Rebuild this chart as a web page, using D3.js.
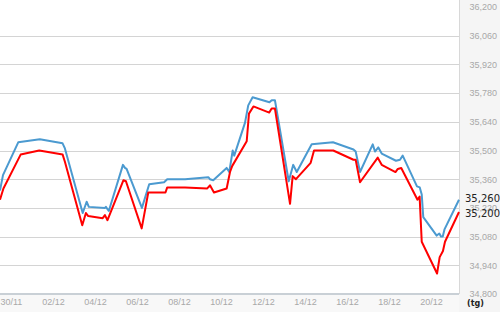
<!DOCTYPE html>
<html>
<head>
<meta charset="utf-8">
<script src="https://cdn.jsdelivr.net/npm/d3@7"></script>
<style>
  html, body { margin: 0; padding: 0; background: #fff; }
  svg { display: block; font-family: "DejaVu Sans", Verdana, sans-serif; }
</style>
</head>
<body>
<div id="chart"></div>
<script>
// sell price (blue), [time, value]
const sellPoints = [
  ["29/11 11:30", 35305], ["29/11 14:55", 35380], ["30/11 08:20", 35540], ["01/12 09:00", 35555],
  ["02/12 11:00", 35535], ["02/12 13:40", 35510], ["03/12 10:00", 35195], ["03/12 14:30", 35250],
  ["03/12 17:00", 35225], ["04/12 11:30", 35220], ["04/12 12:30", 35225], ["04/12 15:50", 35205],
  ["05/12 08:00", 35430], ["05/12 10:20", 35415], ["05/12 12:10", 35410], ["06/12 05:40", 35220],
  ["06/12 14:00", 35335], ["07/12 07:00", 35345], ["07/12 10:35", 35360], ["08/12 07:00", 35360],
  ["09/12 09:30", 35370], ["09/12 11:25", 35360], ["09/12 15:10", 35355], ["10/12 06:30", 35415],
  ["10/12 09:30", 35395], ["10/12 13:25", 35500], ["10/12 15:10", 35475], ["11/12 03:25", 35635],
  ["11/12 07:10", 35720], ["11/12 12:10", 35760], ["12/12 07:25", 35735], ["12/12 10:00", 35745],
  ["12/12 13:40", 35745], ["13/12 05:25", 35350], ["13/12 10:35", 35430], ["13/12 14:35", 35395],
  ["14/12 07:40", 35530], ["15/12 08:00", 35540], ["16/12 07:25", 35505], ["16/12 09:55", 35495],
  ["16/12 14:55", 35395], ["17/12 05:25", 35530], ["17/12 08:00", 35495], ["17/12 11:50", 35515],
  ["17/12 15:40", 35485], ["18/12 08:00", 35450], ["18/12 12:35", 35455], ["18/12 15:40", 35475],
  ["19/12 08:00", 35325], ["19/12 11:10", 35320], ["19/12 13:25", 35285], ["19/12 15:10", 35175],
  ["20/12 06:30", 35085], ["20/12 09:30", 35095], ["20/12 11:25", 35080], ["20/12 13:25", 35080],
  ["20/12 15:25", 35115], ["21/12 08:00", 35260]
];

// buy price (red), [time, value]
const buyPoints = [
  ["29/11 11:30", 35260], ["29/11 15:25", 35315], ["30/11 11:05", 35480], ["01/12 08:20", 35500],
  ["02/12 11:05", 35480], ["02/12 13:40", 35445], ["03/12 09:30", 35135], ["03/12 13:40", 35195],
  ["03/12 16:20", 35180], ["04/12 08:50", 35170], ["04/12 11:25", 35185], ["04/12 14:20", 35160],
  ["05/12 08:35", 35355], ["05/12 11:25", 35350], ["06/12 05:25", 35120], ["06/12 12:55", 35295],
  ["07/12 08:35", 35295], ["07/12 10:35", 35320], ["08/12 06:55", 35320], ["09/12 08:20", 35315],
  ["09/12 11:25", 35330], ["09/12 16:00", 35295], ["10/12 06:30", 35315], ["10/12 10:20", 35395],
  ["10/12 12:55", 35425], ["11/12 05:25", 35545], ["11/12 08:00", 35680], ["11/12 13:05", 35715],
  ["12/12 07:10", 35685], ["12/12 09:55", 35705], ["12/12 13:40", 35705], ["13/12 06:55", 35240],
  ["13/12 09:55", 35375], ["13/12 13:40", 35360], ["14/12 06:30", 35440], ["14/12 10:20", 35500],
  ["15/12 08:20", 35500], ["16/12 07:25", 35455], ["16/12 09:55", 35455], ["16/12 14:55", 35345],
  ["17/12 11:10", 35465], ["17/12 15:40", 35430], ["18/12 07:25", 35395], ["18/12 10:05", 35410],
  ["18/12 14:00", 35415], ["19/12 08:35", 35260], ["19/12 11:00", 35275], ["19/12 13:25", 35055],
  ["20/12 06:55", 34900], ["20/12 09:55", 34980], ["20/12 13:40", 35010], ["20/12 16:00", 35055],
  ["21/12 08:00", 35200]
];

const xTickLabels = ["30/11", "02/12", "04/12", "06/12", "08/12", "10/12",
                     "12/12", "14/12", "16/12", "18/12", "20/12"];
const yTickValues = [34800, 34940, 35080, 35220, 35360, 35500, 35640, 35780, 35920, 36060, 36200];
const timeRange = ["29/11 11:30", "21/12 08:00"];
const unitLabel = "(tg)";

const width = 500, height = 312;
const plot = {left: 0, right: 459, top: 7, bottom: 294};

const parseTime = d3.utcParse("%d/%m %H:%M");
const parseDay = d3.utcParse("%d/%m");

var x = d3.scaleUtc()
  .domain(timeRange.map(parseTime))
  .range([plot.left, plot.right]);

var y = d3.scaleLinear()
  .domain([34800, 36200])
  .range([plot.bottom, plot.top]);

const svg = d3.select("#chart").append("svg")
  .attr("width", width)
  .attr("height", height);

// gray side panel and bottom strip
svg.append("rect")
  .attr("x", plot.right).attr("y", 0)
  .attr("width", width - plot.right).attr("height", height)
  .attr("fill", "#f5f5f5");
svg.append("rect")
  .attr("x", 0).attr("y", plot.bottom)
  .attr("width", plot.right).attr("height", height - plot.bottom)
  .attr("fill", "#f8f8f8");

// grid lines
svg.append("g")
  .selectAll("line")
  .data(yTickValues.filter(v => v > 34800 && v < 36200))
  .enter().append("line")
  .attr("x1", plot.left).attr("x2", plot.right)
  .attr("y1", d => Math.round(y(d)) + 0.5)
  .attr("y2", d => Math.round(y(d)) + 0.5)
  .attr("stroke", "#d4d4d4")
  .attr("stroke-width", 1.2);

// right border
svg.append("line")
  .attr("x1", plot.right + 0.5).attr("x2", plot.right + 0.5)
  .attr("y1", 0).attr("y2", plot.bottom)
  .attr("stroke", "#d8d8d8");

// y axis on the right
var yAxis = d3.axisRight(y)
  .tickValues(yTickValues)
  .tickSize(0)
  .tickFormat(d3.format(","));

svg.append("g")
  .attr("class", "y-axis")
  .attr("transform", "translate(497,0)")
  .call(yAxis)
  .call(g => g.select(".domain").remove())
  .call(g => g.selectAll("text")
    .attr("x", 0)
    .attr("text-anchor", "end")
    .attr("fill", "#a8a8a8")
    .style("font-size", "9px"));

// x axis
var xAxis = d3.axisBottom(x)
  .tickValues(xTickLabels.map(parseDay))
  .tickSize(0)
  .tickFormat(d3.utcFormat("%d/%m"));

svg.append("g")
  .attr("class", "x-axis")
  .attr("transform", "translate(0," + plot.bottom + ")")
  .call(xAxis)
  .call(g => g.select(".domain").remove())
  .call(g => g.selectAll("text")
    .attr("y", 5)
    .attr("fill", "#a8a8a8")
    .style("font-size", "9px"));

svg.append("line")
  .attr("x1", 0).attr("x2", plot.right)
  .attr("y1", plot.bottom).attr("y2", plot.bottom)
  .attr("stroke", "#c9d0d6")
  .attr("stroke-width", 2);

// lines
var line = d3.line()
  .x(d => x(parseTime(d[0])))
  .y(d => y(d[1]));

svg.append("path")
  .datum(sellPoints)
  .attr("fill", "none")
  .attr("stroke", "#4b9ad0")
  .attr("stroke-width", 2)
  .attr("stroke-linejoin", "round")
  .attr("d", line);

svg.append("path")
  .datum(buyPoints)
  .attr("fill", "none")
  .attr("stroke", "#ff0000")
  .attr("stroke-width", 2)
  .attr("stroke-linejoin", "round")
  .attr("d", line);

// last value labels
const lastValues = [sellPoints[sellPoints.length - 1][1], buyPoints[buyPoints.length - 1][1]];
svg.append("g")
  .selectAll("text")
  .data(lastValues)
  .enter().append("text")
  .attr("x", 465)
  .attr("y", (d, i) => i == 0 ? y(d) - 1 : y(d) + 1)
  .attr("dy", "0.35em")
  .attr("fill", "#222")
  .style("font-size", "10px")
  .text(d => d3.format(",")(d));

svg.append("text")
  .attr("x", 467)
  .attr("y", 306)
  .attr("fill", "#222")
  .style("font-size", "8px")
  .style("font-weight", "bold")
  .text(unitLabel);
</script>
</body>
</html>
